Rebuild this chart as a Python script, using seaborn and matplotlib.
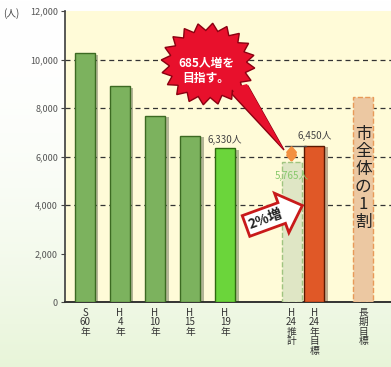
import numpy as np
import pandas as pd
import matplotlib
matplotlib.use("Agg")
import matplotlib.pyplot as plt
import matplotlib.patheffects as pe
from matplotlib.patches import Polygon
from matplotlib.transforms import Affine2D
import seaborn as sns

# ---- data ----
categories = ["S60年", "H4年", "H10年", "H15年", "H19年", "H24推計", "H24年目標", "長期目標"]
tick_labels = ["S\n60\n年", "H\n4\n年", "H\n10\n年", "H\n15\n年", "H\n19\n年",
               "H\n24\n推\n計", "H\n24\n年\n目\n標", "長\n期\n目\n標"]
values = [10250, 8900, 7670, 6850, 6330, 5765, 6450, 8450]
value_labels = {"H19年": "6,330人", "H24推計": "5,765人", "H24年目標": "6,450人"}
callout_text = "685人増を\n目指す。"
increase_text = "2%増"
target_text = "市\n全\n体\nの\n1\n割"
y_ticks = [0, 2000, 4000, 6000, 8000, 10000, 12000]
grid_vals = [4000, 6000, 8000, 10000]

# ---- layout ----
positions = [0, 1, 2, 3, 4, 5.9, 6.55, 7.95]
colors = {"S60年": "#78C050", "H4年": "#78C050", "H10年": "#78C050", "H15年": "#78C050",
          "H19年": "#62EE22", "H24推計": "#E2EBC0", "H24年目標": "#FF4A08", "長期目標": "#F8C896"}
edges = ["#3C6A22", "#3C6A22", "#3C6A22", "#3C6A22", "#2F6A10", "#A0C480", "#5A1800", "#E89A58"]
styles = ["-", "-", "-", "-", "-", "--", "-", "--"]

sns.set_theme(style="white")
plt.rcParams["font.family"] = ["Noto Sans CJK JP", "DejaVu Sans"]

W, H = 391, 367
fig = plt.figure(figsize=(W / 100, H / 100), dpi=100)
px = Affine2D().scale(1 / W, -1 / H).translate(0, 1) + fig.transFigure

# background gradient
bg = fig.add_axes([0, 0, 1, 1], zorder=-10)
grad = np.linspace(0, 1, 256)[:, None]
top = np.array([1.0, 1.0, 1.0])
bot = np.array([0.91, 0.96, 0.85])
img = top[None, None, :] * (1 - grad[..., None] ** 2) + bot[None, None, :] * grad[..., None] ** 2
bg.imshow(np.repeat(img, 2, axis=1), aspect="auto", extent=[0, 1, 0, 1])
bg.axis("off")

ax = fig.add_axes([65 / W, 1 - 302 / H, 1 - 65 / W, (302 - 11) / H])
ax.set_facecolor("#FFFBD8")

df = pd.DataFrame({"pos": positions, "value": values, "cat": categories})
sns.barplot(data=df, x="pos", y="value", hue="cat", palette=colors, native_scale=True,
            width=0.88, dodge=False, legend=False, ax=ax, zorder=3)

for p, ec, ls in zip(ax.patches, edges, styles):
    p.set_edgecolor(ec)
    p.set_linestyle(ls)
    p.set_linewidth(1.0)
    if ls == "-":
        p.set_path_effects([pe.SimplePatchShadow(offset=(2.5, -1), alpha=0.35), pe.Normal()])

for g in grid_vals:
    ax.axhline(g, color="#333333", lw=0.9, ls=(0, (4, 3)), zorder=1)

ax.set_ylim(0, 12000)
ax.set_xlim(-0.571, 8.74)
ax.set_yticks(y_ticks)
ax.set_yticklabels([f"{v:,}" for v in y_ticks], fontsize=6.5, color="#555555")
ax.set_xticks(positions)
ax.set_xticklabels(tick_labels, fontsize=7, color="#333333", linespacing=0.95, va="top")
ax.tick_params(axis="y", length=3, width=0.8, color="#444444", direction="out", pad=2, left=True)
ax.tick_params(axis="x", length=0, pad=4)
ax.set_xlabel("")
ax.set_ylabel("")
for s in ["top", "right"]:
    ax.spines[s].set_visible(False)
ax.spines["left"].set_color("#444444")
ax.spines["bottom"].set_color("#333333")
ax.spines["bottom"].set_linewidth(1.4)

fig.text(3 / W, 1 - 14 / H, "(人)", fontsize=7, color="#444444", va="center")

# value labels
idx = {c: i for i, c in enumerate(categories)}
ax.text(positions[idx["H19年"]], values[idx["H19年"]] + 150, value_labels["H19年"],
        ha="center", va="bottom", fontsize=7, color="#444444", zorder=6)
ax.text(positions[idx["H24年目標"]], values[idx["H24年目標"]] + 180, value_labels["H24年目標"],
        ha="center", va="bottom", fontsize=7, color="#444444", zorder=6)
ax.text(positions[idx["H24推計"]], values[idx["H24推計"]] - 350, value_labels["H24推計"],
        ha="center", va="top", fontsize=7, color="#86C86A", zorder=6)

# bracket + double arrow
xa = positions[idx["H24推計"]]
ax.plot([xa - 0.2, positions[idx["H24年目標"]] - 0.25], [values[idx["H24年目標"]]] * 2,
        color="#444444", lw=1, zorder=5)
ax.annotate("", xy=(xa, values[idx["H24推計"]]), xytext=(xa, values[idx["H24年目標"]]),
            arrowprops=dict(arrowstyle="<|-|>,head_length=0.35,head_width=0.3", color="#F39040",
                            lw=2.4, mutation_scale=9, shrinkA=0, shrinkB=0),
            zorder=6)

# long-term target text
ax.text(positions[idx["長期目標"]], 5100, target_text, ha="center", va="center",
        fontsize=12, color="#222222", linespacing=1.05, zorder=6)

# starburst callout
cx, cy, rx, ry = 208, 64, 47, 41
n = 20
ang = np.linspace(0, 2 * np.pi, 2 * n, endpoint=False) + 0.1
rad = np.where(np.arange(2 * n) % 2 == 0, 1.0, 0.82)
pts = np.c_[cx + rx * rad * np.cos(ang), cy + ry * rad * np.sin(ang)]
tail = Polygon([[230, 92], [284, 150], [248, 86]], closed=True, transform=px,
               facecolor="#E8102C", edgecolor="#8A0010", lw=1, zorder=7, clip_on=False)
star = Polygon(pts, closed=True, transform=px, facecolor="#E8102C", edgecolor="#8A0010",
               lw=1, zorder=8, clip_on=False)
fig.add_artist(tail)
fig.add_artist(star)
fig.add_artist(Polygon([[231, 88], [284, 150], [247, 84]], closed=True, transform=px,
                       facecolor="#E8102C", edgecolor="none", zorder=9, clip_on=False))
fig.text(206, 71, callout_text, transform=px, ha="center", va="center", fontsize=8.5,
         color="white", fontweight="bold", linespacing=1.2, zorder=10)

# 2% arrow
local = np.array([[0, -11], [38, -11], [38, -21], [60, 0], [38, 21], [38, 11], [0, 11]], float)
th = np.deg2rad(20)
rot = np.array([[np.cos(th), np.sin(th)], [-np.sin(th), np.cos(th)]])
arr = local @ rot.T + np.array([246, 226])
fig.add_artist(Polygon(arr, closed=True, transform=px, facecolor="white", edgecolor="#C81A1A",
                       lw=2, zorder=8, clip_on=False))
tc = np.array([21, 0]) @ rot.T + np.array([246, 226])
fig.text(tc[0], tc[1], increase_text, transform=px, ha="center", va="center", fontsize=10,
         rotation=20, color="#222222", fontweight="bold", zorder=9)

fig.savefig("out.png", dpi=100)
